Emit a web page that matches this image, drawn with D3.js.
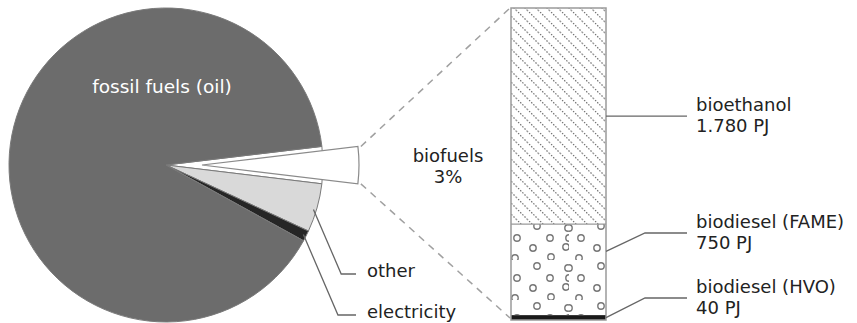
<!DOCTYPE html>
<html>
<head>
<meta charset="utf-8">
<script src="https://cdn.jsdelivr.net/npm/d3@7"></script>
<style>
  body { margin: 0; background: white; }
  text { font-family: "DejaVu Sans", Verdana, sans-serif; }
</style>
</head>
<body>
<div id="Canvas"></div>
<script>
// pie shares (percent)
let pieNames = ["biofuels", "other", "electricity", "fossil fuels (oil)"]
let pieShares = [3.8, 5.0, 1.1, 90.1]
let pieColors = ["#ffffff", "#d9d9d9", "#262626", "#6c6c6c"]

// biofuel split, PJ (bottom to top)
let bioNames = ["biodiesel (HVO)", "biodiesel (FAME)", "bioethanol"]
let bioValues = [40, 750, 1780]
let bioLabels = ["40 PJ", "750 PJ", "1.780 PJ"]

let svg = d3.select("#Canvas")
    .append("svg")
    .attr("width", 857)
    .attr("height", 323)
    .style("background", "white")

let defs = svg.append("defs")
// diagonal dotted hatch for bioethanol
let hatch = defs.append("pattern").attr("id", "hatch")
    .attr("patternUnits", "userSpaceOnUse")
    .attr("width", 11).attr("height", 11)
hatch.append("path")
    .attr("d", "M-1,-1 L12,12 M-1,10 L1,12 M10,-1 L12,1")
    .attr("stroke", "#6e6e6e").attr("stroke-width", 1.2)
    .attr("stroke-dasharray", "1.5,1.5").attr("fill", "none")
// small circles for FAME
let dots = defs.append("pattern").attr("id", "dots")
    .attr("patternUnits", "userSpaceOnUse")
    .attr("x", 505).attr("y", 220)
    .attr("width", 64).attr("height", 40)
let circ = [[32, 6], [63, 8], [12, 18], [45, 18], [28, 28], [61, 27], [10, 38], [46, 37], [0, 8], [64, 18]]
dots.selectAll("circle").data(circ).enter().append("circle")
    .attr("cx", d => d[0]).attr("cy", d => d[1]).attr("r", 3.2)
    .attr("fill", "none").attr("stroke", "#777").attr("stroke-width", 1.4)

// ---- pie ----
let cx = 166, cy = 165, R = 157
let startA = 83.2 * Math.PI / 180
let pie = d3.pie().sort(null).startAngle(startA).endAngle(startA + 2 * Math.PI)
let arcs = pie(pieShares)
let arc = d3.arc().innerRadius(0).outerRadius(R)

let pieG = svg.append("g").attr("transform", `translate(${cx},${cy})`)
pieG.selectAll("path.slice")
    .data(arcs).enter()
    .append("path").attr("class", "slice")
    .attr("d", arc)
    .attr("fill", (d, i) => pieColors[i])
    .attr("stroke", "#7a7a7a")
    .attr("stroke-width", 1)

// pulled out biofuels slice
let bio = arcs[0]
let mid = (bio.startAngle + bio.endAngle) / 2
let off = 36
let ox = off * Math.sin(mid), oy = -off * Math.cos(mid)
pieG.append("path")
    .attr("d", arc(bio))
    .attr("transform", `translate(${ox},${oy})`)
    .attr("fill", "white")
    .attr("stroke", "#8a8a8a")
    .attr("stroke-width", 1.2)

pieG.append("text")
    .attr("x", -4).attr("y", -72)
    .attr("text-anchor", "middle")
    .attr("fill", "white")
    .style("font-size", "18.5px")
    .text(pieNames[3])

// ---- bar ----
let barX0 = 511, barX1 = 606
let total = d3.sum(bioValues)
let Bar_Y = d3.scaleLinear().domain([0, total]).range([320, 8])
let stack = []
let acc = 0
bioValues.forEach((v, i) => { stack.push({ name: bioNames[i], y0: acc, y1: acc + v, i: i }); acc += v })
let fills = ["#1a1a1a", "url(#dots)", "url(#hatch)"]

svg.append("g").selectAll("rect")
    .data(stack).enter()
    .append("rect")
    .attr("x", barX0).attr("width", barX1 - barX0)
    .attr("y", d => Bar_Y(d.y1))
    .attr("height", d => Bar_Y(d.y0) - Bar_Y(d.y1))
    .attr("fill", d => fills[d.i])
svg.append("rect")
    .attr("x", barX0).attr("width", barX1 - barX0)
    .attr("y", Bar_Y(total)).attr("height", Bar_Y(0) - Bar_Y(total))
    .attr("fill", "none").attr("stroke", "#9a9a9a").attr("stroke-width", 1.5)
svg.append("line")
    .attr("x1", barX0).attr("x2", barX1)
    .attr("y1", Bar_Y(stack[1].y1)).attr("y2", Bar_Y(stack[1].y1))
    .attr("stroke", "#9a9a9a").attr("stroke-width", 1.2)

// dashed connectors from slice corners to bar corners
let p1 = [cx + ox + R * Math.sin(bio.startAngle), cy + oy - R * Math.cos(bio.startAngle)]
let p2 = [cx + ox + R * Math.sin(bio.endAngle), cy + oy - R * Math.cos(bio.endAngle)]
let conn = [[p1, [barX0 - 1, Bar_Y(total)]], [p2, [barX0 - 1, Bar_Y(0) - 2]]]
svg.append("g").selectAll("line")
    .data(conn).enter()
    .append("line")
    .attr("x1", d => d[0][0] + 3).attr("y1", d => d[0][1])
    .attr("x2", d => d[1][0]).attr("y2", d => d[1][1])
    .attr("stroke", "#a0a0a0").attr("stroke-width", 1.5)
    .attr("stroke-dasharray", "7,6")

svg.append("text")
    .attr("x", 448).attr("y", 162)
    .attr("text-anchor", "middle").attr("fill", "#222")
    .style("font-size", "18px")
    .text(pieNames[0])
svg.append("text")
    .attr("x", 448).attr("y", 183)
    .attr("text-anchor", "middle").attr("fill", "#222")
    .style("font-size", "18px")
    .text("3%")

// ---- bar labels ----
// anchor on bar (value), y of horizontal leader
let anchorVal = [20, 565, 790 + 1780 / 2]
let leaderY = [298, 233, 116]
let lab = svg.append("g")
stack.forEach((d, i) => {
    let ay = Bar_Y(anchorVal[i])
    let ly = leaderY[i]
    let pts = Math.abs(ay - ly) < 1 ? [[barX1, ay], [687, ay]] : [[barX1, ay], [645, ly], [687, ly]]
    lab.append("path")
        .attr("d", d3.line()(pts))
        .attr("fill", "none").attr("stroke", "#666").attr("stroke-width", 1.3)
    lab.append("text").attr("x", 696).attr("y", ly - 5)
        .attr("fill", "#222").style("font-size", "18px").text(d.name)
    lab.append("text").attr("x", 696).attr("y", ly + 16)
        .attr("fill", "#222").style("font-size", "18px").text(bioLabels[i])
})

// ---- pie labels (other, electricity) ----
let pieLab = [
    { idx: 1, frac: 0.55, y: 274, text: pieNames[1] },
    { idx: 2, frac: 0.5, y: 315, text: pieNames[2] }
]
pieLab.forEach(p => {
    let a = arcs[p.idx]
    let ang = a.startAngle + (a.endAngle - a.startAngle) * p.frac
    let sx = cx + (R - 3) * Math.sin(ang), sy = cy - (R - 3) * Math.cos(ang)
    svg.append("path")
        .attr("d", d3.line()([[sx, sy], [sx + (p.y - sy) * 0.43, p.y], [356, p.y]]))
        .attr("fill", "none").attr("stroke", "#666").attr("stroke-width", 1.3)
    svg.append("text").attr("x", 367).attr("y", p.y + 3)
        .attr("fill", "#222").style("font-size", "18px").text(p.text)
})
</script>
</body>
</html>
